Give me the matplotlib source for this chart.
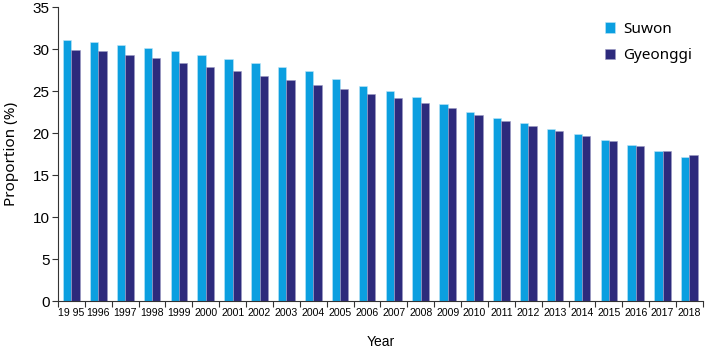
import matplotlib
matplotlib.use("Agg")
import matplotlib.pyplot as plt
import numpy as np

plt.rcParams["font.family"] = ["Liberation Sans", "DejaVu Sans"]

years = ["19 95", "1996", "1997", "1998", "1999", "2000", "2001", "2002", "2003", "2004",
         "2005", "2006", "2007", "2008", "2009", "2010", "2011", "2012", "2013", "2014",
         "2015", "2016", "2017", "2018"]
suwon = [31.15, 30.9, 30.48, 30.12, 29.77, 29.33, 28.81, 28.38, 27.86, 27.39,
         26.51, 25.68, 25.01, 24.34, 23.5, 22.55, 21.84, 21.2, 20.53, 19.9,
         19.22, 18.59, 17.92, 17.16]
gyeonggi = [29.96, 29.77, 29.37, 28.93, 28.42, 27.94, 27.39, 26.83, 26.32, 25.76,
            25.25, 24.65, 24.18, 23.62, 22.99, 22.12, 21.48, 20.85, 20.25, 19.62,
            19.1, 18.51, 17.92, 17.36]

c_suwon = "#0b9fe0"
c_gyeonggi = "#2d2a7c"

fig = plt.figure(figsize=(7.05, 3.48), dpi=100)
ax = fig.add_axes([0.0823, 0.135, 0.9147, 0.844])

x = np.arange(len(years))
w = 0.31
ax.bar(x - w / 2, suwon, width=w, color=c_suwon, edgecolor="#bfe6f7", linewidth=0.4, label="Suwon")
ax.bar(x + w / 2, gyeonggi, width=w, color=c_gyeonggi, edgecolor="#9c9ac4", linewidth=0.4, label="Gyeonggi")

ax.set_xlim(-0.5, len(years) - 0.5)
ax.set_ylim(0, 35)
ax.set_yticks(np.arange(0, 36, 5))
ax.tick_params(axis="y", labelsize=11, length=4, width=0.8, color="#333333", pad=2)

ax.set_xticks(x)
ax.set_xticklabels(years, fontsize=7.6)
ax.set_xticks(np.arange(-0.5, len(years), 1), minor=True)
ax.tick_params(axis="x", which="major", length=0, pad=5)
ax.tick_params(axis="x", which="minor", length=4, width=0.8, color="#333333")

for s in ["top", "right"]:
    ax.spines[s].set_visible(False)
for s in ["left", "bottom"]:
    ax.spines[s].set_color("#333333")
    ax.spines[s].set_linewidth(0.8)

ax.set_ylabel("Proportion (%)", fontsize=11, labelpad=10, family="Noto Sans")
ax.set_xlabel("Year", fontsize=10, labelpad=12)

ax.legend(loc="upper right", bbox_to_anchor=(692 / 705, 1 - 22 / 348), bbox_transform=fig.transFigure,
          frameon=False, borderpad=0, borderaxespad=0,
          handlelength=0.7, handleheight=0.7, handletextpad=0.5, labelspacing=0.75,
          prop={"family": "Noto Sans", "size": 11})

fig.savefig("out.png", dpi=100)
